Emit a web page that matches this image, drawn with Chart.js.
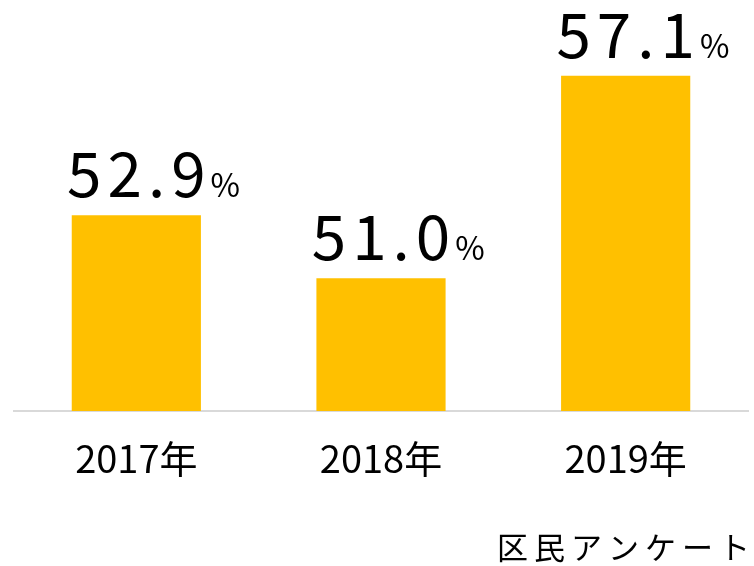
<!DOCTYPE html>
<html>
<head>
<meta charset="utf-8">
<script src="https://cdn.jsdelivr.net/npm/chart.js@4"></script>
<style>
  html, body { margin: 0; padding: 0; background: #fff; }
  #wrap { width: 754px; height: 566px; position: relative; }
</style>
</head>
<body>
<div id="wrap"><canvas id="grafico"></canvas></div>
<script>
// Dados do gráfico
const categorias = ['2017年', '2018年', '2019年'];
const valores = [52.9, 51.0, 57.1];
const fonte = '区民アンケート';

const FAMILIA = '"Noto Sans CJK JP", "Noto Sans", sans-serif';

// Rótulos de valor acima das barras (número grande + "%" pequeno)
const rotulosPlugin = {
  id: 'rotulos',
  afterDatasetsDraw(chart) {
    const ctx = chart.ctx;
    const meta = chart.getDatasetMeta(0);
    ctx.save();
    ctx.fillStyle = '#000';
    ctx.textBaseline = 'alphabetic';
    meta.data.forEach(function(bar, i) {
      const num = valores[i].toFixed(1);
      ctx.font = '400 62px ' + FAMILIA;
      ctx.letterSpacing = '6px';
      const w = ctx.measureText(num).width - 6;
      const x0 = bar.x - w / 2;
      const base = bar.y - 18;
      ctx.textAlign = 'left';
      ctx.fillText(num, x0, base);
      ctx.font = '400 32px ' + FAMILIA;
      ctx.letterSpacing = '0px';
      ctx.fillText('%', x0 + w + 5, base);
    });
    ctx.restore();
  },
  afterDraw(chart) {
    const ctx = chart.ctx;
    ctx.save();
    ctx.fillStyle = '#000';
    ctx.font = '400 31px ' + FAMILIA;
    ctx.letterSpacing = '6px';
    ctx.textAlign = 'right';
    ctx.textBaseline = 'alphabetic';
    ctx.fillText(fonte, 756, 559);
    ctx.restore();
  }
};

new Chart(document.getElementById('grafico'), {
  type: 'bar',
  data: {
    labels: categorias,
    datasets: [{
      data: valores,
      backgroundColor: '#FFC000',
      borderWidth: 0,
      barPercentage: 0.528,
      categoryPercentage: 1
    }]
  },
  options: {
    responsive: true,
    maintainAspectRatio: false,
    animation: false,
    layout: { padding: { top: 46, left: 14, right: 6, bottom: 0 } },
    plugins: {
      legend: { display: false },
      tooltip: { enabled: false }
    },
    scales: {
      x: {
        grid: { display: false },
        border: { display: true, color: '#d9d9d9', width: 2 },
        ticks: {
          color: '#000',
          padding: 17,
          font: { family: FAMILIA, size: 38, weight: '400' }
        },
        afterFit: function(axis) { axis.height = 155; }
      },
      y: {
        display: false,
        min: 47,
        max: 58
      }
    }
  },
  plugins: [rotulosPlugin]
});
</script>
</body>
</html>
